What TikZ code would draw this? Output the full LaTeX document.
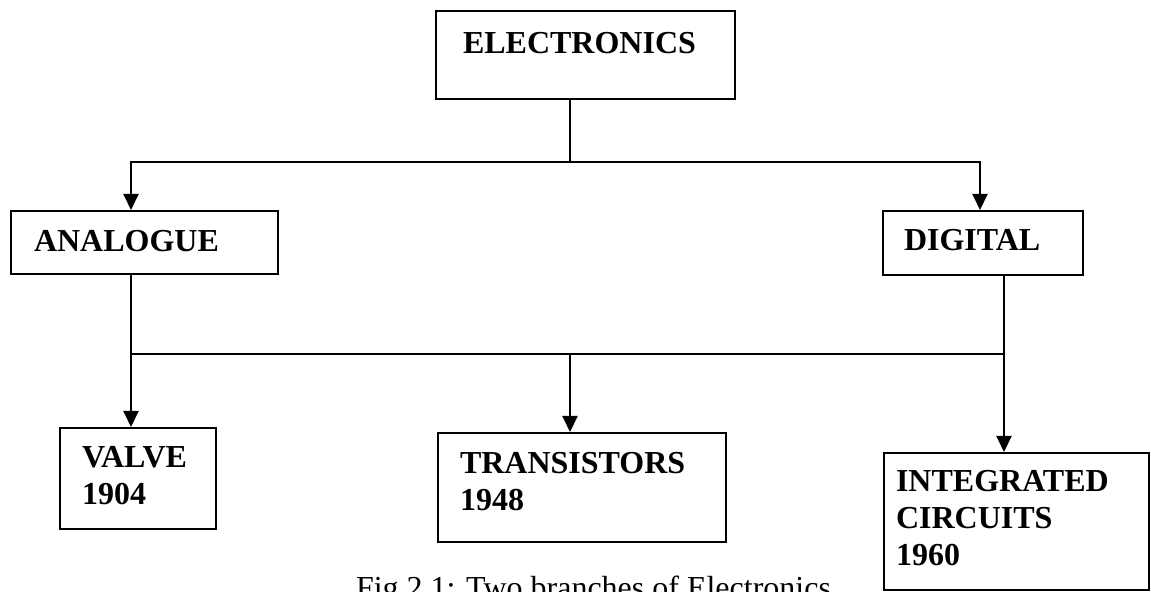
\documentclass[tikz,border=0pt]{standalone}
\usepackage{fontspec}
\setmainfont{Liberation Serif}
\usepackage{tikz}
\usetikzlibrary{arrows.meta,positioning}

\begin{document}
\begin{tikzpicture}[
    x=0.5pt, y=-0.5pt, line width=1pt, >={Triangle[length=8pt,width=7.5pt]},
    box/.style={draw, line width=1pt, anchor=north west, align=left, inner ysep=0pt, font=\bfseries\fontsize{16}{18.5}\selectfont},
    figcap/.style={anchor=base west, inner sep=0pt, font=\fontsize{16}{19}\selectfont}]
    \useasboundingbox (0,0) rectangle (1151,592);
    \node[box, inner xsep=13.5pt, text width=122.5pt, text height=21.5pt, text depth=22.5pt] (elec) at (435,10) {ELECTRONICS};
    \node[box, inner xsep=11.5pt, text width=110.5pt, text height=20.5pt, text depth=11pt] (analogue) at (10,210) {ANALOGUE};
    \node[box, inner xsep=10.5pt, text width=79pt, text height=20pt, text depth=12pt] (digital) at (882,210) {DIGITAL};
    \node[box, inner xsep=11pt, text width=56pt, text height=20pt, text depth=30.5pt] (valve) at (59,427) {VALVE\\1904};
    \node[box, inner xsep=11pt, text width=122pt, text height=20.5pt, text depth=34pt] (trans) at (437,432) {TRANSISTORS\\1948};
    \node[box, inner xsep=6pt, text width=120.5pt, text height=19.5pt, text depth=49pt] (ic) at (883,452) {INTEGRATED\\CIRCUITS\\1960};
    \node[figcap] (caption) at (355,598) {Fig 2.1: Two branches of Electronics};
    \coordinate (upper) at (570,162);
    \coordinate (upleft) at (131,162);
    \coordinate (upright) at (980,162);
    \coordinate (lowleft) at (131,354);
    \coordinate (lowmid) at (570,354);
    \coordinate (lowright) at (1004,354);
    \draw (elec.south -| upper) -- (upper);
    \draw[->] (upper) -| (upleft |- analogue.north);
    \draw[->] (upper) -| (upright |- digital.north);
    \draw[->] (analogue.south -| lowleft) -- (valve.north -| lowleft);
    \draw[->] (digital.south -| lowright) -- (ic.north -| lowright);
    \draw (lowleft) -- (lowright);
    \draw[->] (lowmid) -- (trans.north -| lowmid);
\end{tikzpicture}
\end{document}
